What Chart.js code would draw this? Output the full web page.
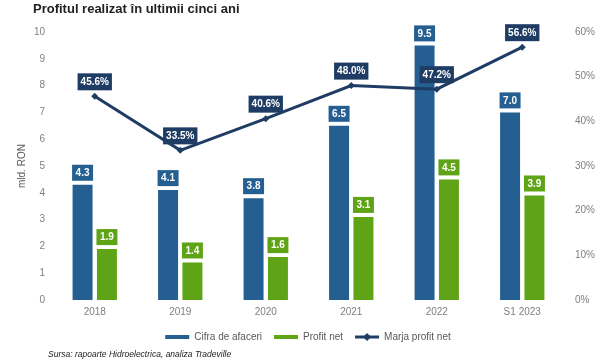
<!DOCTYPE html>
<html>
<head>
<meta charset="utf-8">
<script src="https://cdn.jsdelivr.net/npm/chart.js@4.4.0/dist/chart.umd.min.js"></script>
<style>
    body { margin: 0; background: #fff; }
    #wrap { position: relative; width: 600px; height: 361px; }
    #title { position: absolute; left: 33px; top: 1px; font: bold 13px "Liberation Sans", Arial, sans-serif; color: #222; }
    #source { position: absolute; left: 48px; top: 349px; font: italic 8.5px "Liberation Sans", Arial, sans-serif; color: #222; }
</style>
</head>
<body>
<div id="wrap">
    <canvas id="myChart" width="600" height="361"></canvas>
    <div id="title">Profitul realizat în ultimii cinci ani</div>
    <div id="source">Sursa: rapoarte Hidroelectrica, analiza Tradeville</div>
</div>
<script>
//DATA
const years = ['2018', '2019', '2020', '2021', '2022', 'S1 2023'];
const cifraAfaceri = [4.3, 4.1, 3.8, 6.5, 9.5, 7.0];
const profitNet = [1.9, 1.4, 1.6, 3.1, 4.5, 3.9];
const marjaProfit = [45.6, 33.5, 40.6, 48.0, 47.2, 56.6];

const blue = '#255E91';
const green = '#5FA316';
const navy = '#1F3D64';
const tickColor = '#7F7F7F';


//DRAW VALUE BOXES ABOVE BARS AND POINTS
const valueBoxes = {
    id: 'valueBoxes',
    afterDatasetsDraw(chart) {
        const ctx = chart.ctx;
        ctx.save();
        ctx.font = 'bold 10px "Liberation Sans", Arial, sans-serif';
        ctx.textAlign = 'center';
        ctx.textBaseline = 'middle';
        chart.data.datasets.forEach((ds, i) => {
            const meta = chart.getDatasetMeta(i);
            meta.data.forEach((el, j) => {
                let text, x0, w, h, bottom;
                if (ds.type === 'line') {
                    text = ds.data[j].toFixed(1) + '%';
                    w = ctx.measureText(text).width + 6;
                    h = 17;
                    bottom = el.y - 6;
                } else {
                    text = ds.data[j].toFixed(1);
                    w = el.width + 1;
                    h = 16;
                    bottom = el.y - 4;
                }
                x0 = el.x - w / 2;
                ctx.fillStyle = ds.type === 'line' ? navy : ds.backgroundColor;
                ctx.fillRect(x0, bottom - h, w, h);
                ctx.fillStyle = '#fff';
                ctx.fillText(text, el.x, bottom - h / 2 + 0.5);
            });
        });
        ctx.restore();
    },
    afterDraw(chart) {
        // line + diamond marker for the line legend item
        const legend = chart.legend;
        const box = legend.legendHitBoxes[2];
        if (!box) return;
        const ctx = chart.ctx;
        const bw = legend.options.labels.boxWidth;
        const cy = box.top + box.height / 2;
        const cx = box.left + bw / 2;
        ctx.save();
        ctx.strokeStyle = navy;
        ctx.lineWidth = 3;
        ctx.beginPath();
        ctx.moveTo(box.left, cy);
        ctx.lineTo(box.left + bw, cy);
        ctx.stroke();
        ctx.fillStyle = navy;
        ctx.beginPath();
        ctx.moveTo(cx, cy - 4);
        ctx.lineTo(cx + 4, cy);
        ctx.lineTo(cx, cy + 4);
        ctx.lineTo(cx - 4, cy);
        ctx.closePath();
        ctx.fill();
        ctx.restore();
    }
};


const ctx = document.getElementById('myChart');

new Chart(ctx, {
    data: {
        labels: years,
        datasets: [{
            type: 'bar',
            label: 'Cifra de afaceri',
            data: cifraAfaceri,
            backgroundColor: blue,
            yAxisID: 'y',
            order: 1,
            categoryPercentage: 0.57,
            barPercentage: 0.82
        }, {
            type: 'bar',
            label: 'Profit net',
            data: profitNet,
            backgroundColor: green,
            yAxisID: 'y',
            order: 1,
            categoryPercentage: 0.57,
            barPercentage: 0.82
        }, {
            type: 'line',
            label: 'Marja profit net',
            data: marjaProfit,
            borderColor: navy,
            backgroundColor: navy,
            borderWidth: 3,
            pointStyle: 'rectRot',
            pointRadius: 3.5,
            pointBackgroundColor: navy,
            pointBorderWidth: 0,
            yAxisID: 'y1',
            order: 0
        }]
    },
    options: {
        responsive: false,
        animation: false,
        layout: {
            padding: { top: 32, left: 16, right: 0, bottom: 9 }
        },
        plugins: {
            tooltip: { enabled: false },
            legend: {
                position: 'bottom',
                labels: {
                    boxWidth: 24,
                    boxHeight: 4,
                    padding: 12,
                    color: '#595959',
                    font: { size: 10, family: '"Liberation Sans", Arial, sans-serif' },
                    sort: (a, b) => a.datasetIndex - b.datasetIndex,
                    generateLabels: (chart) => {
                        const items = Chart.defaults.plugins.legend.labels.generateLabels(chart);
                        items.forEach(it => {
                            it.lineWidth = 0;
                            it.strokeStyle = 'transparent';
                            if (it.datasetIndex === 2) {
                                it.fillStyle = 'transparent';
                            }
                        });
                        return items;
                    }
                }
            }
        },
        scales: {
            x: {
                grid: { display: false, drawTicks: false },
                border: { display: false },
                afterFit: (s) => { s.height = 20; },
                ticks: {
                    padding: 6,
                    color: tickColor,
                    font: { size: 10, family: '"Liberation Sans", Arial, sans-serif' }
                }
            },
            y: {
                position: 'left',
                min: 0,
                max: 10,
                grid: { display: false, drawTicks: false },
                border: { display: false },
                afterFit: (s) => { s.width = 36; },
                title: {
                    display: true,
                    text: 'mld. RON',
                    color: '#595959',
                    padding: 0,
                    font: { size: 10, family: '"Liberation Sans", Arial, sans-serif' }
                },
                ticks: {
                    stepSize: 1,
                    padding: 7,
                    color: tickColor,
                    font: { size: 10, family: '"Liberation Sans", Arial, sans-serif' }
                }
            },
            y1: {
                position: 'right',
                min: 0,
                max: 60,
                grid: { display: false, drawTicks: false },
                border: { display: false },
                afterFit: (s) => { s.width = 35; },
                ticks: {
                    stepSize: 10,
                    padding: 10,
                    color: tickColor,
                    font: { size: 10, family: '"Liberation Sans", Arial, sans-serif' },
                    callback: (v) => v + '%'
                }
            }
        }
    },
    plugins: [valueBoxes]
});
</script>
</body>
</html>
